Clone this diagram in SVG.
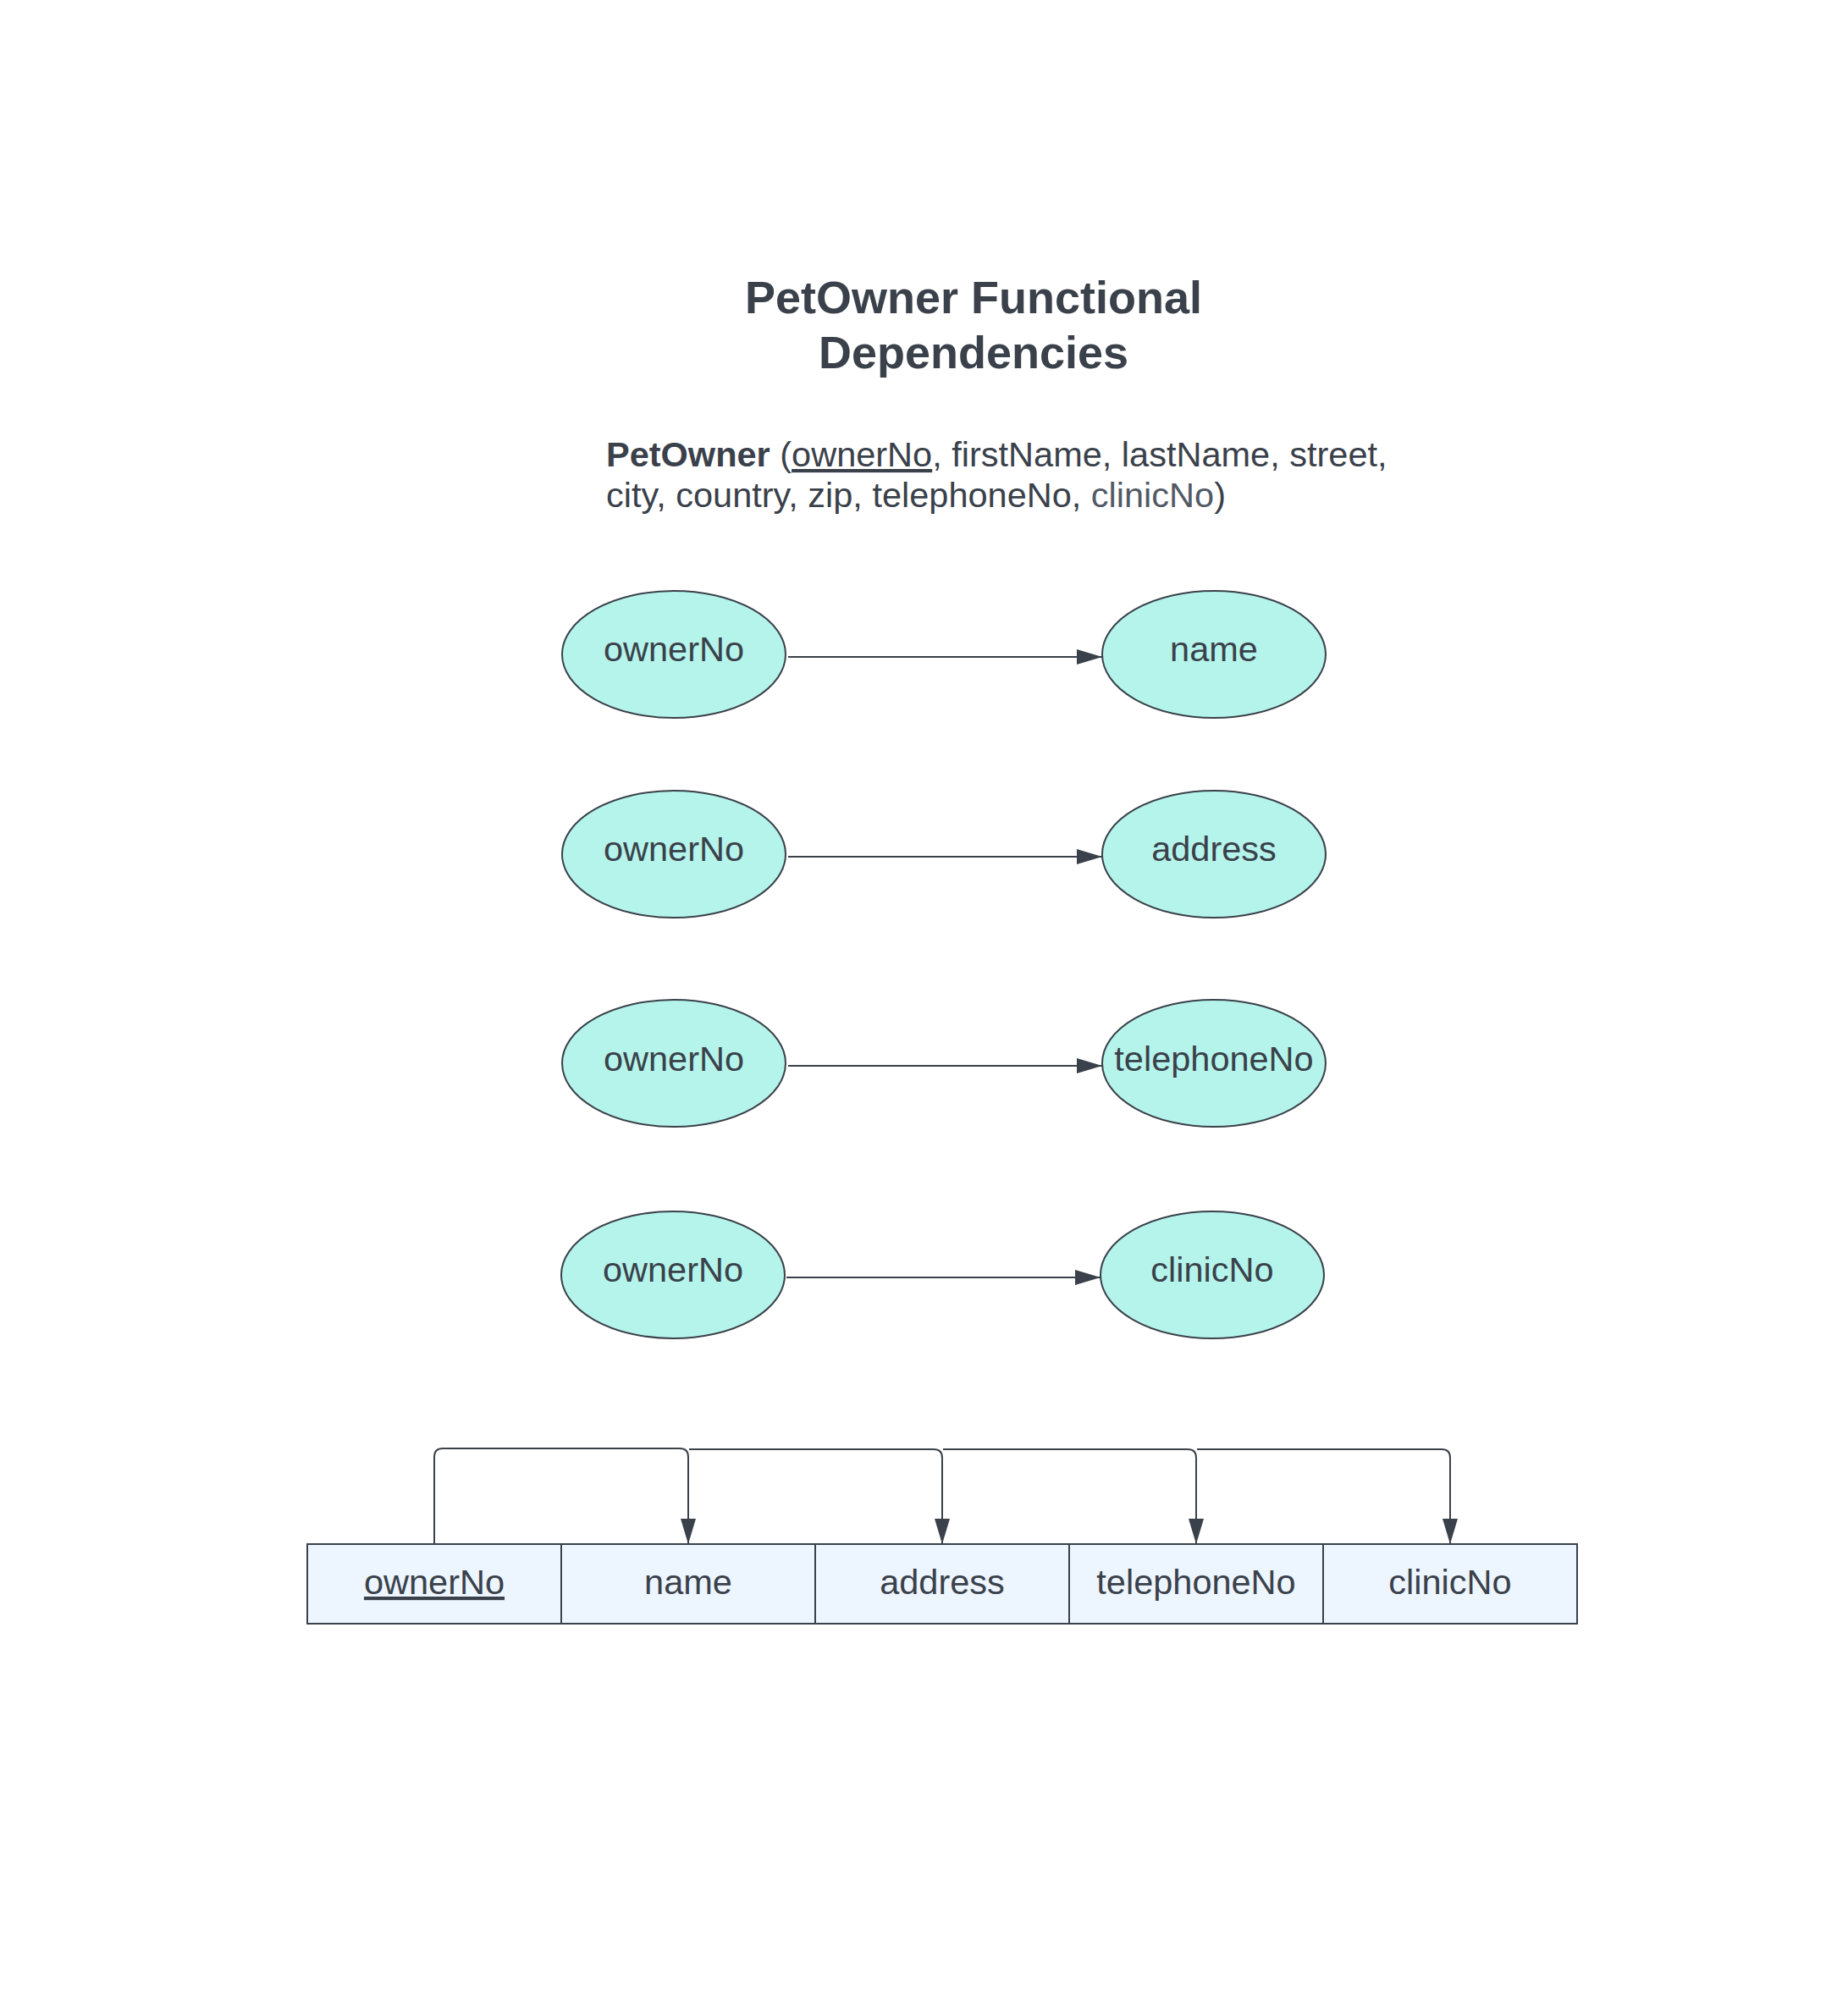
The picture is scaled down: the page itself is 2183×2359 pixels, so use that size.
<svg xmlns="http://www.w3.org/2000/svg" width="2183" height="2359" viewBox="0 0 2183 2359">
<style>
text{font-family:"Liberation Sans",Arial,sans-serif;fill:#3a414a}
.t{font-size:41.5px}
.title{font-size:54px;font-weight:bold}
.c{text-anchor:middle}
.ell{fill:#b5f4ea;stroke:#3a414a;stroke-width:2}
.cell{fill:#edf5ff;stroke:#3a414a;stroke-width:2}
.con{fill:none;stroke:#3a414a;stroke-width:2}
</style>
<defs>
<marker id="ah" markerUnits="userSpaceOnUse" markerWidth="30" markerHeight="20" viewBox="0 0 30 20" refX="30" refY="10" orient="auto">
<path d="M0,1 L30,10 L0,19 z" fill="#3a414a"/>
</marker>
</defs>
<rect width="2183" height="2359" fill="#ffffff"/>
<g id="title">
<text class="title c" x="1150" y="370">PetOwner Functional</text>
<text class="title c" x="1150" y="435">Dependencies</text>
</g>
<g id="relation">
<text class="t" x="716" y="551"><tspan font-weight="bold">PetOwner</tspan> (<tspan text-decoration="underline">ownerNo</tspan>, firstName, lastName, street,</text>
<text class="t" x="716" y="599">city, country, zip, telephoneNo, <tspan fill="#525a65">clinicNo</tspan>)</text>
</g>
<g id="connectors">
<path class="con" d="M931,776 H1302" marker-end="url(#ah)"/>
<path class="con" d="M931,1012 H1302" marker-end="url(#ah)"/>
<path class="con" d="M931,1259 H1302" marker-end="url(#ah)"/>
<path class="con" d="M929,1509 H1300" marker-end="url(#ah)"/>
<path class="con" d="M513,1824 V1721 Q513,1711 523,1711 H803 Q813,1711 813,1721 V1824" marker-end="url(#ah)"/>
<path class="con" d="M814,1712 H1103 Q1113,1712 1113,1722 V1824" marker-end="url(#ah)"/>
<path class="con" d="M1114,1712 H1403 Q1413,1712 1413,1722 V1824" marker-end="url(#ah)"/>
<path class="con" d="M1414,1712 H1703 Q1713,1712 1713,1722 V1824" marker-end="url(#ah)"/>
</g>
<g id="fd1-owner"><ellipse class="ell" cx="796" cy="773" rx="132" ry="75"/><text class="t c" x="796" y="781">ownerNo</text></g>
<g id="fd1-name"><ellipse class="ell" cx="1434" cy="773" rx="132" ry="75"/><text class="t c" x="1434" y="781">name</text></g>
<g id="fd2-owner"><ellipse class="ell" cx="796" cy="1009" rx="132" ry="75"/><text class="t c" x="796" y="1017">ownerNo</text></g>
<g id="fd2-address"><ellipse class="ell" cx="1434" cy="1009" rx="132" ry="75"/><text class="t c" x="1434" y="1017">address</text></g>
<g id="fd3-owner"><ellipse class="ell" cx="796" cy="1256" rx="132" ry="75"/><text class="t c" x="796" y="1265">ownerNo</text></g>
<g id="fd3-telephone"><ellipse class="ell" cx="1434" cy="1256" rx="132" ry="75"/><text class="t c" x="1434" y="1265">telephoneNo</text></g>
<g id="fd4-owner"><ellipse class="ell" cx="795" cy="1506" rx="132" ry="75"/><text class="t c" x="795" y="1514">ownerNo</text></g>
<g id="fd4-clinic"><ellipse class="ell" cx="1432" cy="1506" rx="132" ry="75"/><text class="t c" x="1432" y="1514">clinicNo</text></g>
<g id="col-ownerNo"><rect class="cell" x="363" y="1824" width="300" height="94"/><text class="t c" x="513" y="1883" text-decoration="underline">ownerNo</text></g>
<g id="col-name"><rect class="cell" x="663" y="1824" width="300" height="94"/><text class="t c" x="813" y="1883">name</text></g>
<g id="col-address"><rect class="cell" x="963" y="1824" width="300" height="94"/><text class="t c" x="1113" y="1883">address</text></g>
<g id="col-telephoneNo"><rect class="cell" x="1263" y="1824" width="300" height="94"/><text class="t c" x="1413" y="1883">telephoneNo</text></g>
<g id="col-clinicNo"><rect class="cell" x="1563" y="1824" width="300" height="94"/><text class="t c" x="1713" y="1883">clinicNo</text></g>
</svg>
